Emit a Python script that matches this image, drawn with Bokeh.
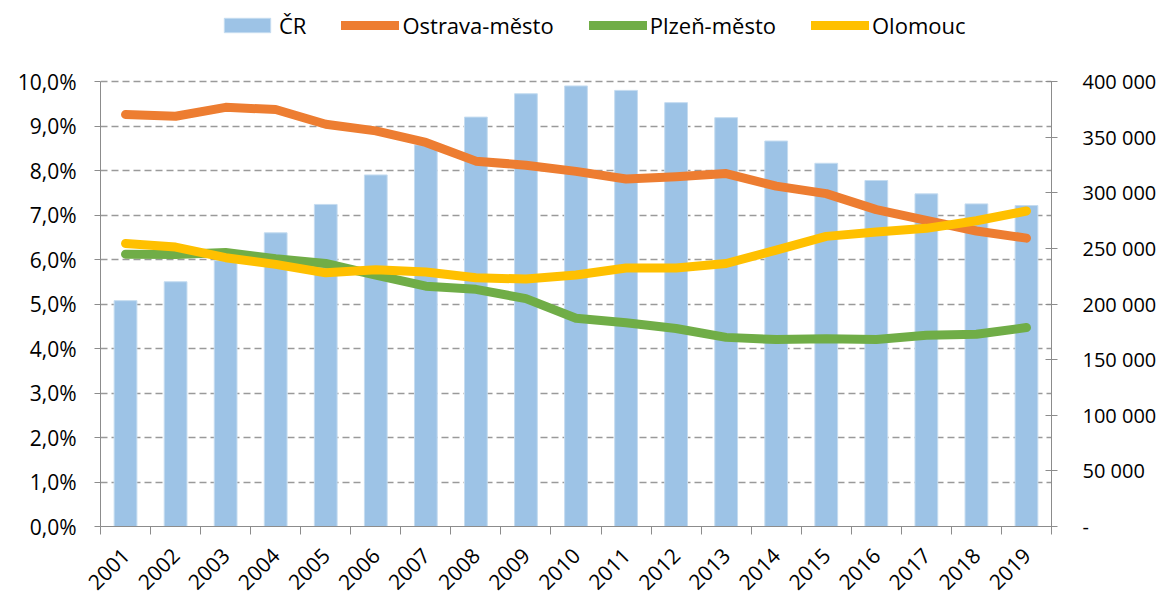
from bokeh.plotting import figure
from bokeh.models import (Range1d, LinearAxis, FixedTicker, Legend, LegendItem)
from bokeh.embed import file_html
from bokeh.resources import INLINE
import math

years = list(range(2001, 2020))
cr = [203000, 220000, 239000, 264000, 289500, 316000, 343000, 368000, 389000, 396000,
      392000, 381000, 367500, 346500, 326500, 311000, 299000, 290000, 288500]
ostrava = [9.26, 9.22, 9.42, 9.37, 9.04, 8.89, 8.63, 8.21, 8.12, 7.98,
           7.81, 7.86, 7.93, 7.65, 7.48, 7.12, 6.88, 6.64, 6.48]
plzen = [6.12, 6.11, 6.16, 6.02, 5.91, 5.65, 5.40, 5.33, 5.12, 4.68,
         4.58, 4.45, 4.25, 4.20, 4.22, 4.20, 4.30, 4.32, 4.47]
olomouc = [6.36, 6.28, 6.04, 5.89, 5.70, 5.77, 5.72, 5.59, 5.56, 5.65,
           5.81, 5.81, 5.91, 6.21, 6.52, 6.62, 6.70, 6.87, 7.09]
pct_ticks = list(range(0, 11))
pct_labels = [f"{t},0%" for t in pct_ticks]
cnt_ticks = list(range(0, 400001, 50000))
cnt_labels = ["-"] + [f"{t // 1000} 000" for t in cnt_ticks[1:]]

FONT = "Open Sans"
AX = "#8C8C8C"

# frame spans the legend area too; axes/grid are bounded to the data region
PCT_MAX, CNT_MAX = 10, 400000
HEAD = 516 / 445  # extra room above the 10 % line for the legend

p = figure(width=1161, height=599, output_backend="svg", toolbar_location=None,
           x_range=Range1d(years[0] - 0.5, years[-1] + 0.5),
           y_range=Range1d(0, PCT_MAX * HEAD),
           min_border_left=100, min_border_right=110, min_border_top=10, min_border_bottom=73)
p.outline_line_color = None
p.extra_y_ranges = {"cnt": Range1d(0, CNT_MAX * HEAD)}

bars = p.vbar(x=years, top=cr, width=0.4545, bottom=0, y_range_name="cnt",
              fill_color="#9DC3E6", line_color="#C5DCF0", line_width=1)
lo = p.line(years, ostrava, line_color="#ED7D31", line_width=9, line_cap="round", line_join="round")
lp = p.line(years, plzen, line_color="#70AD47", line_width=9, line_cap="round", line_join="round")
ll = p.line(years, olomouc, line_color="#FFC000", line_width=9, line_cap="round", line_join="round")

# x axis
xa = p.xaxis[0]
xa.ticker = FixedTicker(ticks=years, minor_ticks=[y - 0.5 for y in years] + [years[-1] + 0.5])
xa.major_label_overrides = {y: str(y) for y in years}
xa.major_tick_out = 0
xa.major_tick_in = 0
xa.minor_tick_out = 8
xa.minor_tick_in = 0
xa.minor_tick_line_color = AX
xa.axis_line_color = AX
xa.major_label_orientation = math.pi / 4
xa.major_label_text_font = FONT
xa.major_label_text_font_size = "21px"
xa.major_label_text_color = "#000000"
xa.major_label_standoff = 17

# left axis
ya = p.yaxis[0]
ya.bounds = (0, PCT_MAX)
ya.ticker = FixedTicker(ticks=pct_ticks)
ya.major_label_overrides = {t: l for t, l in zip(pct_ticks, pct_labels)}
ya.major_tick_out = 6
ya.major_tick_in = 0
ya.minor_tick_out = 0
ya.minor_tick_in = 0
ya.axis_line_color = AX
ya.major_tick_line_color = AX
ya.major_label_text_font = FONT
ya.major_label_text_font_size = "21px"
ya.major_label_text_color = "#000000"
ya.major_label_standoff = 18

# right axis
ra = LinearAxis(y_range_name="cnt", ticker=FixedTicker(ticks=cnt_ticks), bounds=(0, CNT_MAX))
ra.major_label_overrides = {t: l for t, l in zip(cnt_ticks, cnt_labels)}
ra.major_tick_out = 6
ra.major_tick_in = 6
ra.minor_tick_out = 0
ra.minor_tick_in = 0
ra.axis_line_color = AX
ra.major_tick_line_color = AX
ra.major_label_text_font = FONT
ra.major_label_text_font_size = "20px"
ra.major_label_text_color = "#000000"
ra.major_label_standoff = 25
p.add_layout(ra, "right")

p.xgrid.grid_line_color = None
p.ygrid.grid_line_color = "#9A9A9A"
p.ygrid.grid_line_dash = "7 4"
p.ygrid.grid_line_width = 1.3

legend = Legend(items=[LegendItem(label="ČR", renderers=[bars]),
                       LegendItem(label="Ostrava-město", renderers=[lo]),
                       LegendItem(label="Plzeň-město", renderers=[lp]),
                       LegendItem(label="Olomouc", renderers=[ll])],
                orientation="horizontal", location=(118, 486),
                glyph_width=58, glyph_height=18, label_standoff=3, spacing=35,
                padding=0, margin=0, border_line_color=None, background_fill_alpha=0,
                label_text_font=FONT, label_text_font_size="22px", label_text_color="#000000")
p.add_layout(legend, "center")

open("out.html", "w").write(file_html(p, INLINE))
